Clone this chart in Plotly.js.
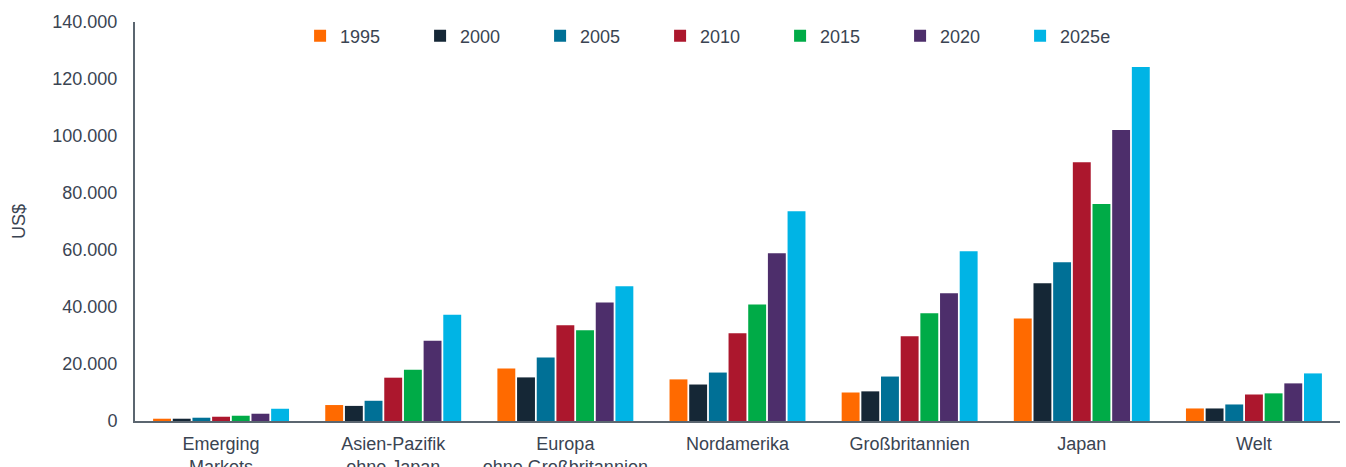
<!DOCTYPE html>
<html>
<head>
<meta charset="utf-8">
<script src="https://cdn.plot.ly/plotly-3.0.1.min.js"></script>
<style>html,body{margin:0;padding:0;background:#fff;}#chart{width:1346px;height:467px;}</style>
</head>
<body>
<div id="chart"></div>
<script>
const categories = ["Emerging<br>Markets", "Asien-Pazifik<br>ohne Japan", "Europa<br>ohne Großbritannien", "Nordamerika", "Großbritannien", "Japan", "Welt"];
const seriesNames = ["1995", "2000", "2005", "2010", "2015", "2020", "2025e"];
const seriesColors = ["#ff6a00", "#152736", "#007096", "#ac172d", "#00ab47", "#4d2e6b", "#00b4e5"];
const v1995 = [800, 5600, 18450, 14600, 10000, 36000, 4400];
const v2000 = [800, 5300, 15300, 12800, 10400, 48300, 4400];
const v2005 = [1150, 7100, 22300, 17000, 15600, 55700, 5800];
const v2010 = [1500, 15200, 33600, 30800, 29700, 90800, 9300];
const v2015 = [1850, 18000, 31800, 40900, 37800, 76100, 9700];
const v2020 = [2550, 28200, 41600, 58900, 44800, 102100, 13200];
const v2025 = [4300, 37300, 47300, 73600, 59600, 124200, 16700];
const seriesValues = [v1995, v2000, v2005, v2010, v2015, v2020, v2025];
const yTicks = [0, 20000, 40000, 60000, 80000, 100000, 120000, 140000];

const font = {family: "Liberation Sans, Arial, sans-serif", size: 18, color: "#3a4452"};

const traces = seriesNames.map((name, i) => ({
  type: "bar",
  name: name,
  x: categories,
  y: seriesValues[i],
  marker: {color: seriesColors[i]},
  hoverinfo: "x+y+name"
}));

const layout = {
  width: 1346,
  height: 467,
  margin: {l: 135, r: 6, t: 22, b: 46},
  paper_bgcolor: "#fff",
  plot_bgcolor: "#fff",
  font: font,
  separators: ",.",
  barmode: "group",
  bargap: 0.2,
  bargroupgap: 0.09,
  showlegend: true,
  legend: {
    orientation: "h",
    x: 0.137, xanchor: "left",
    y: 0.965, yanchor: "middle",
    font: font,
    entrywidth: 75,
    entrywidthmode: "pixels",
    bgcolor: "rgba(0,0,0,0)"
  },
  xaxis: {
    showline: true,
    linecolor: "#5b6670",
    linewidth: 2,
    showgrid: false,
    zeroline: false,
    ticks: "outside",
    ticklen: 5,
    tickcolor: "rgba(0,0,0,0)",
    tickfont: font,
    fixedrange: true
  },
  yaxis: {
    range: [0, 140000],
    tickvals: yTicks,
    tickformat: ",.0f",
    showline: true,
    linecolor: "#5b6670",
    linewidth: 2,
    showgrid: false,
    zeroline: false,
    ticks: "outside",
    ticklen: 12,
    tickcolor: "rgba(0,0,0,0)",
    tickfont: font,
    title: {text: "US$", font: font, standoff: 22},
    fixedrange: true
  }
};

Plotly.newPlot("chart", traces, layout, {displayModeBar: false, staticPlot: true});
</script>
</body>
</html>
